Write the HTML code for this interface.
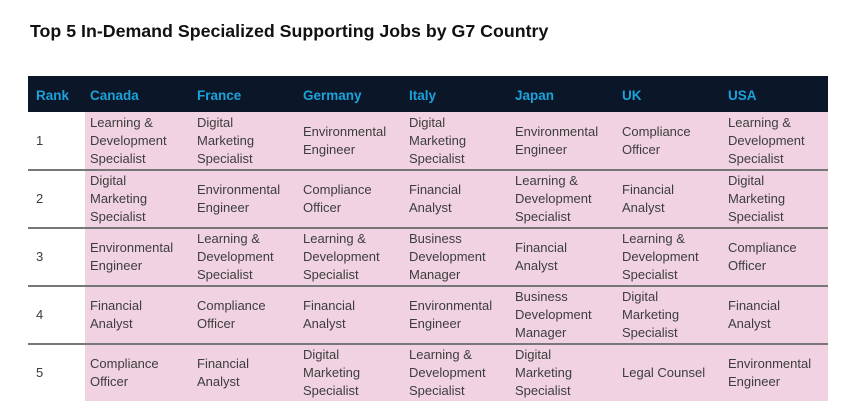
<!DOCTYPE html>
<html><head><style>
body{margin:0;width:865px;height:420px;background:#fff;font-family:"Liberation Sans",sans-serif;position:relative;overflow:hidden}
.t{position:absolute;left:30px;top:21px;font-size:17.8px;font-weight:bold;color:#111}
.hd{position:absolute;left:28px;top:76px;width:800px;height:36px;background:#0b1628}
.h{position:absolute;top:88px;font-size:13.5px;font-weight:bold;color:#1aa3db}
.pk{position:absolute;left:85px;top:112px;width:743px;height:289px;background:#f0d2e3}
.ln{position:absolute;left:28px;width:800px;height:2px;background:#777}
.c{position:absolute;font-size:13px;line-height:17.7px;color:#3d3d3d;display:flex;align-items:center;height:58px}
</style></head><body>
<div class="t">Top 5 In-Demand Specialized Supporting Jobs by G7 Country</div>
<div class="hd"></div>
<div class="h" style="left:36px">Rank</div><div class="h" style="left:90px">Canada</div><div class="h" style="left:197px">France</div><div class="h" style="left:303px">Germany</div><div class="h" style="left:409px">Italy</div><div class="h" style="left:515px">Japan</div><div class="h" style="left:622px">UK</div><div class="h" style="left:728px">USA</div>
<div class="pk"></div>
<div class="ln" style="top:169px"></div><div class="ln" style="top:227px"></div><div class="ln" style="top:285px"></div><div class="ln" style="top:343px"></div>
<div id="g"></div>
<script>
var d=[["1","Learning &<br>Development<br>Specialist","Digital<br>Marketing<br>Specialist","Environmental<br>Engineer","Digital<br>Marketing<br>Specialist","Environmental<br>Engineer","Compliance<br>Officer","Learning &<br>Development<br>Specialist"],
["2","Digital<br>Marketing<br>Specialist","Environmental<br>Engineer","Compliance<br>Officer","Financial<br>Analyst","Learning &<br>Development<br>Specialist","Financial<br>Analyst","Digital<br>Marketing<br>Specialist"],
["3","Environmental<br>Engineer","Learning &<br>Development<br>Specialist","Learning &<br>Development<br>Specialist","Business<br>Development<br>Manager","Financial<br>Analyst","Learning &<br>Development<br>Specialist","Compliance<br>Officer"],
["4","Financial<br>Analyst","Compliance<br>Officer","Financial<br>Analyst","Environmental<br>Engineer","Business<br>Development<br>Manager","Digital<br>Marketing<br>Specialist","Financial<br>Analyst"],
["5","Compliance<br>Officer","Financial<br>Analyst","Digital<br>Marketing<br>Specialist","Learning &<br>Development<br>Specialist","Digital<br>Marketing<br>Specialist","Legal Counsel","Environmental<br>Engineer"]];
var xs=[36,90,197,303,409,515,622,728],h="";
d.forEach(function(r,i){r.forEach(function(t,j){h+='<div class="c" style="left:'+xs[j]+'px;top:'+(112+i*58)+'px"><div>'+t+'</div></div>';});});
document.getElementById("g").innerHTML=h;
</script>
</body></html>
